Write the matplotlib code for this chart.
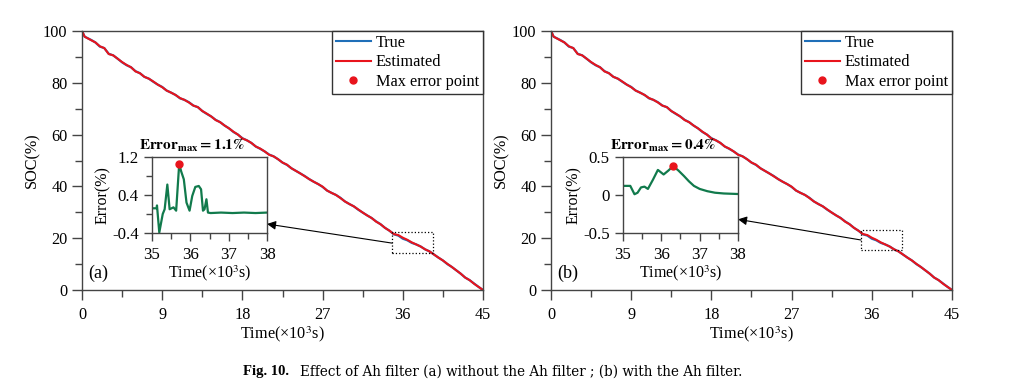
import numpy as np
import matplotlib
matplotlib.use("Agg")
import matplotlib.pyplot as plt
from matplotlib.lines import Line2D
from matplotlib.patches import Rectangle

plt.rcParams['font.family'] = ['Liberation Serif', 'DejaVu Serif']
plt.rcParams['mathtext.fontset'] = 'stix'

# main SOC curves (time in 10^3 s)
t_main = [0, 0.3, 1, 1.5, 2, 2.5, 3, 3.5, 4, 4.5, 5, 5.5, 6, 6.5, 7, 7.5, 8, 8.5,
          9, 9.5, 10, 10.5, 11, 11.5, 12, 12.5, 13, 13.5, 14, 14.5, 15, 15.5, 16,
          16.5, 17, 17.5, 18, 18.5, 19, 19.5, 20, 20.5, 21, 21.5, 22, 22.5, 23,
          23.5, 24, 24.5, 25, 25.5, 26, 26.5, 27, 27.5, 28, 28.5, 29, 29.5, 30,
          30.5, 31, 31.5, 32, 32.5, 33, 33.5, 34, 34.5, 35, 35.5, 36, 36.5, 37,
          37.5, 38, 38.5, 39, 39.5, 40, 40.5, 41, 41.5, 42, 42.5, 43, 43.5, 44,
          44.5, 45]
soc_true = [100, 97.8, 96.6, 95.6, 94.0, 93.4, 91.2, 90.6, 89.3, 87.9, 86.8, 86.0,
            84.5, 83.7, 82.3, 81.6, 80.4, 79.3, 78.4, 77.0, 76.2, 75.3, 74.0,
            73.4, 72.5, 71.2, 70.6, 69.1, 68.0, 67.0, 65.7, 64.8, 63.5, 62.4,
            61.0, 60.0, 58.6, 57.8, 56.8, 55.4, 54.5, 53.5, 52.3, 51.6, 50.5,
            49.2, 48.3, 47.0, 46.0, 45.0, 44.0, 42.8, 41.8, 40.9, 39.8, 38.4,
            37.5, 36.7, 35.6, 34.2, 33.2, 32.3, 31.0, 29.9, 28.8, 27.8, 26.5,
            25.4, 24.0, 22.9, 21.5, 21.0, 19.8, 19.2, 18.2, 17.6, 16.8, 15.7,
            14.9, 13.7, 12.5, 11.4, 10.0, 8.9, 7.6, 6.3, 4.8, 3.8, 2.5, 1.2, 0]
soc_est = [100, 97.8, 96.5, 95.6, 94.1, 93.4, 91.1, 90.6, 89.3, 88.0, 86.9, 86.0,
           84.4, 83.7, 82.3, 81.6, 80.5, 79.3, 78.3, 77.0, 76.2, 75.3, 74.1,
           73.4, 72.4, 71.2, 70.6, 69.1, 68.1, 67.0, 65.6, 64.8, 63.5, 62.4,
           61.1, 60.0, 58.5, 57.8, 56.8, 55.4, 54.6, 53.5, 52.2, 51.6, 50.5,
           49.2, 48.4, 47.0, 46.0, 45.0, 43.9, 42.8, 41.8, 40.9, 39.9, 38.4,
           37.5, 36.7, 35.5, 34.2, 33.2, 32.3, 31.1, 29.9, 28.8, 27.8, 26.4,
           25.4, 24.0, 22.9, 21.6, 21.2, 20.2, 19.4, 18.4, 17.6, 16.8, 15.7,
           14.9, 13.7, 12.5, 11.4, 10.1, 8.9, 7.6, 6.3, 4.8, 3.8, 2.4, 1.2, 0]

# inset error data, without Ah filter (a)
t_err_a = [35.0, 35.12, 35.13, 35.19, 35.28, 35.33, 35.4, 35.46, 35.56, 35.63,
           35.71, 35.76, 35.83, 35.9, 35.98, 36.05, 36.13, 36.22, 36.28, 36.33,
           36.37, 36.42, 36.46, 36.53, 36.8, 37.1, 37.4, 37.7, 38.0]
err_a = [0.12, 0.12, 0.18, -0.39, 0.0, 0.1, 0.62, 0.1, 0.14, 0.07,
         1.06, 0.9, 0.73, 0.24, 0.07, 0.38, 0.57, 0.59, 0.52, 0.07,
         0.1, 0.31, 0.03, 0.02, 0.03, 0.02, 0.03, 0.02, 0.03]
max_a = (35.71, 1.06)

# inset error data, with Ah filter (b)
t_err_b = [35.0, 35.19, 35.3, 35.38, 35.47, 35.56, 35.65, 35.78, 35.91, 36.06,
           36.18, 36.31, 36.45, 36.59, 36.72, 36.85, 37.0, 37.2, 37.4, 37.63, 38.0]
err_b = [0.12, 0.12, 0.01, 0.03, 0.1, 0.11, 0.08, 0.2, 0.33, 0.27,
         0.32, 0.38, 0.32, 0.25, 0.18, 0.12, 0.08, 0.05, 0.03, 0.02, 0.013]
max_b = (36.31, 0.385)

blue = '#1f6fb8'
red = '#e8141c'
green = '#117a4c'

fig = plt.figure(figsize=(10.12, 3.87), dpi=100)

panels = [
    dict(left=82, ins_left=152, t=t_err_a, e=err_a, mx=max_a, ylim=(-0.4, 1.2),
         yt=[-0.4, 0.4, 1.2], ytl=['-0.4', '0.4', '1.2'], yminor=[0.0, 0.8],
         title=r'$\mathbf{Error_{max}}$$\mathbf{= 1.1\%}$', tag='(a)',
         rect=(34.8, 14.3, 4.6, 8.1), tail=(34.8, 18.1), head=-0.21),
    dict(left=551, ins_left=623, t=t_err_b, e=err_b, mx=max_b, ylim=(-0.5, 0.5),
         yt=[-0.5, 0, 0.5], ytl=['-0.5', '0', '0.5'], yminor=[],
         title=r'$\mathbf{Error_{max}}$$\mathbf{= 0.4\%}$', tag='(b)',
         rect=(34.8, 15.4, 4.6, 7.8), tail=(34.8, 19.3), head=-0.32),
]

W, H = 1012, 387
spine_c = '#444444'
for p in panels:
    ax = fig.add_axes([p['left'] / W, 1 - 290 / H, 401 / W, 259 / H])
    ax.plot(t_main, soc_true, color=blue, lw=1.6)
    ax.plot(t_main, soc_est, color=red, lw=1.5)
    ax.set_xlim(0, 45)
    ax.set_ylim(0, 100)
    ax.set_xticks([0, 9, 18, 27, 36, 45])
    ax.set_xticks(np.arange(4.5, 45, 9), minor=True)
    ax.set_yticks([0, 20, 40, 60, 80, 100])
    ax.set_yticks([10, 30, 50, 70, 90], minor=True)
    ax.tick_params(which='both', direction='out', labelsize=11.7, color=spine_c)
    ax.tick_params(which='major', length=7, width=1)
    ax.tick_params(which='minor', length=5, width=1)
    ax.tick_params(axis='x', which='major', pad=5)
    for s in ax.spines.values():
        s.set_color(spine_c)
        s.set_linewidth(1.0)
    ax.set_xlabel('Time(×10$^3$s)', fontsize=11.7, labelpad=1)
    ax.set_ylabel('SOC(%)', fontsize=11.7, labelpad=2)
    ax.text(0.015, 0.066, p['tag'], transform=ax.transAxes, fontsize=13,
            va='center', ha='left')

    handles = [Line2D([], [], color=blue, lw=1.5),
               Line2D([], [], color=red, lw=1.5),
               Line2D([], [], color=red, marker='o', ls='none', ms=5)]
    leg = ax.legend(handles, ['True', 'Estimated', 'Max error point'],
                    loc='upper right', borderaxespad=0, fancybox=False,
                    edgecolor='#333333', framealpha=1, fontsize=11.7,
                    handlelength=2.15, handletextpad=0.3, labelspacing=0.2,
                    borderpad=0.25)
    leg.get_frame().set_linewidth(1.0)

    rx, ry, rw, rh = p['rect']
    ax.add_patch(Rectangle((rx, ry), rw, rh, fill=False, ls=':', lw=0.9,
                           ec='black', zorder=5))

    ins = fig.add_axes([p['ins_left'] / W, 1 - 233 / H, 115 / W, 76 / H])
    ins.plot(p['t'], p['e'], color=green, lw=1.6)
    ins.plot(*p['mx'], 'o', color=red, ms=5, zorder=5)
    ins.set_xlim(35, 38)
    ins.set_ylim(*p['ylim'])
    ins.set_xticks([35, 36, 37, 38])
    ins.set_xticks([35.5, 36.5, 37.5], minor=True)
    ins.set_yticks(p['yt'])
    ins.set_yticklabels(p['ytl'])
    ins.set_yticks(p['yminor'], minor=True)
    ins.tick_params(which='both', direction='out', labelsize=12.2, color=spine_c)
    ins.tick_params(which='major', length=6, width=1)
    ins.tick_params(which='minor', length=4, width=1)
    ins.tick_params(axis='x', which='major', pad=4)
    for s in ins.spines.values():
        s.set_color(spine_c)
        s.set_linewidth(1.0)
    ins.set_xlabel('Time(×10$^3$s)', fontsize=11.5, labelpad=0)
    ins.set_ylabel('Error(%)', fontsize=11.5, labelpad=1)
    ins.text(-0.11, 1.04, p['title'], transform=ins.transAxes, fontsize=11,
             ha='left', va='bottom')

    ax.annotate('', xy=(38, p['head']), xycoords=ins.transData,
                xytext=p['tail'], textcoords=ax.transData,
                arrowprops=dict(arrowstyle='-|>', color='black', lw=0.8,
                                mutation_scale=13, shrinkA=0, shrinkB=0))

fig.text(243 / W, 1 - 372 / H, 'Fig. 10.', fontsize=10.5, fontweight='bold',
         family='Liberation Serif', ha='left', va='center')
fig.text(300 / W, 1 - 372 / H,
         'Effect of Ah filter (a) without the Ah filter ; (b) with the Ah filter.',
         fontsize=9.75, family='DejaVu Serif', ha='left', va='center')

fig.savefig('out.png', dpi=100)
